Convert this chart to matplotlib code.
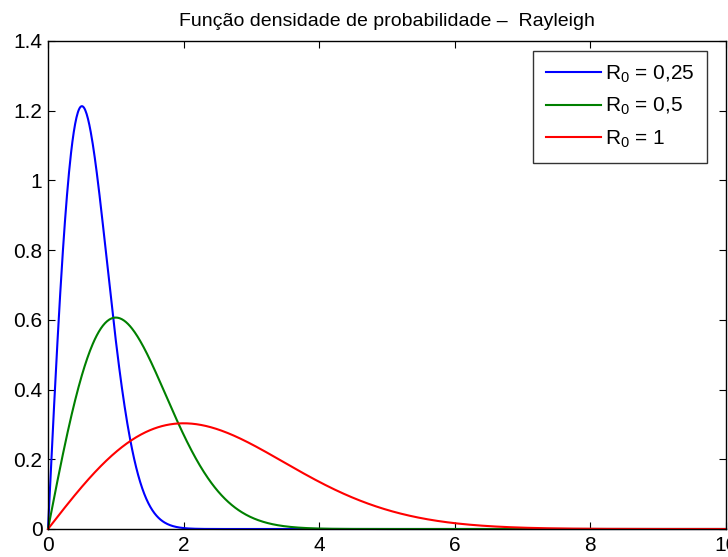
import numpy as np
import matplotlib
matplotlib.use("Agg")
import matplotlib.pyplot as plt

plt.rcParams['font.family'] = ['Liberation Sans', 'DejaVu Sans']
plt.rcParams['mathtext.default'] = 'regular'

# Rayleigh parameters (sigma) and legend labels
sigmas = [0.5, 1.0, 2.0]
labels = ['R$_0$ = 0,25', 'R$_0$ = 0,5', 'R$_0$ = 1']
colors = ['#0000ff', '#008000', '#ff0000']
xticks = [0, 2, 4, 6, 8, 10]
yticks = [0, 0.2, 0.4, 0.6, 0.8, 1, 1.2, 1.4]

x = np.linspace(0, 10, 1001)

fig = plt.figure(figsize=(7.28, 5.57), dpi=100)
ax = fig.add_axes([48/728, 28/557, 678/728, 488/557])

for s, lab, c in zip(sigmas, labels, colors):
    # Rayleigh pdf
    y = x / s**2 * np.exp(-x**2 / (2 * s**2))
    ax.plot(x, y, color=c, lw=1.5, label=lab, clip_on=False)

ax.set_xlim(0, 10)
ax.set_ylim(0, 1.4)
ax.set_xticks(xticks)
ax.set_yticks(yticks)
ax.set_xticklabels(['%g' % t for t in xticks])
ax.set_yticklabels(['%g' % t for t in yticks])
ax.tick_params(direction='in', top=True, right=True, labelsize=15, length=5)
ax.tick_params(axis='x', pad=5)
ax.tick_params(axis='y', pad=4)
for sp in ax.spines.values():
    sp.set_linewidth(1.0)

ax.set_title('Função densidade de probabilidade –  Rayleigh', fontsize=14, pad=11)

leg = ax.legend(loc='upper right', bbox_to_anchor=(0.972, 0.98), borderaxespad=0,
                fontsize=15, frameon=True, fancybox=False,
                edgecolor='black', handlelength=2.65, labelspacing=0.55,
                handletextpad=0.2, borderpad=0.6)
leg.get_frame().set_linewidth(1.0)

fig.savefig('out.png', dpi=100)
